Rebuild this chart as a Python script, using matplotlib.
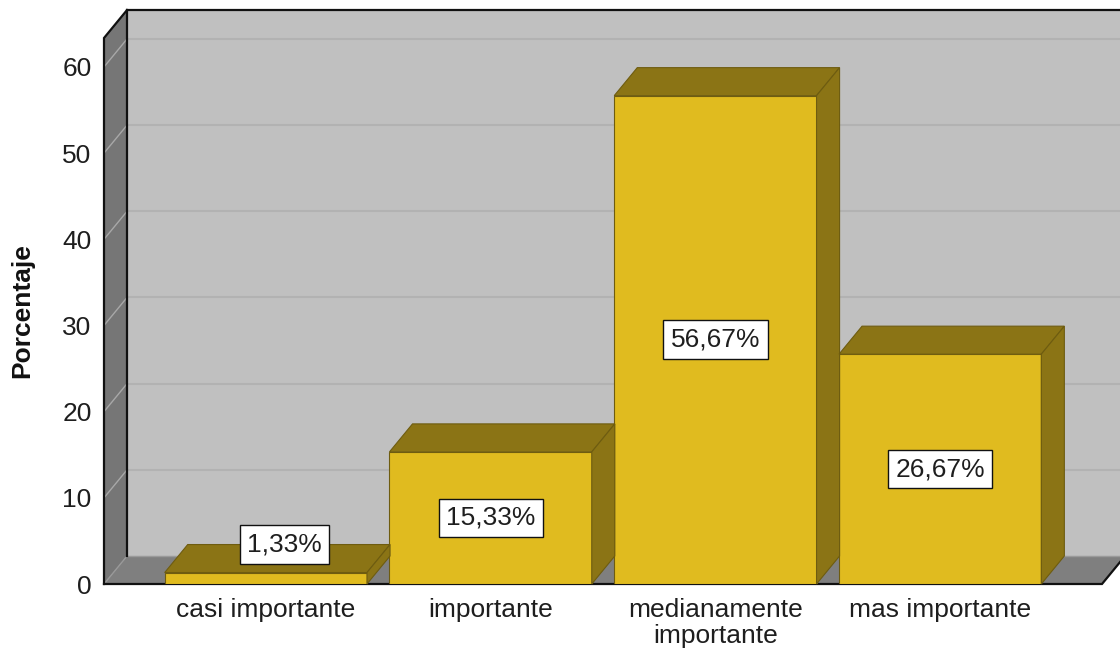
import matplotlib
matplotlib.use("Agg")
import matplotlib.pyplot as plt
from matplotlib.patches import Polygon

# Data
categories = ["casi importante", "importante", "medianamente\nimportante", "mas importante"]
percentages = [1.33, 15.33, 56.67, 26.67]
value_labels = ["1,33%", "15,33%", "56,67%", "26,67%"]
y_ticks = [0, 10, 20, 30, 40, 50, 60]

# Style
FRONT = "#e0bb1f"
SHADE = "#8b7415"
BAR_EDGE = "#6e5c10"
BACK_WALL = "#c0c0c0"
LEFT_WALL = "#767676"
FLOOR = "#7f7f7f"
TEXT = "#1e1e1e"
FONT = "Liberation Sans"
FS = 19

plt.rcParams["font.family"] = [FONT, "DejaVu Sans"]

W, H = 1120, 654
fig = plt.figure(figsize=(W / 100, H / 100), dpi=100)
fig.patch.set_facecolor("white")
ax = fig.add_axes([104 / W, (H - 584) / H, (1102 - 104) / W, (584 - 38) / H])

xmin, xmax = -0.72, 3.72
ymin, ymax = 0, 63.36
ax.set_xlim(xmin, xmax)
ax.set_ylim(ymin, ymax)
ax.set_facecolor("none")
for s in ax.spines.values():
    s.set_visible(False)

# depth of the 3D box (data units)
DX, DY = 0.1025, 3.25
BAR_W = 0.9

def poly(pts, fc, ec="none", lw=0, z=1):
    ax.add_patch(Polygon(pts, closed=True, facecolor=fc, edgecolor=ec,
                         linewidth=lw, zorder=z, clip_on=False))

# back wall
poly([(xmin + DX, DY), (xmax + DX, DY), (xmax + DX, ymax + DY), (xmin + DX, ymax + DY)],
     BACK_WALL, z=0.5)
for t in y_ticks[1:]:
    ax.plot([xmin + DX, xmax + DX], [t + DY, t + DY], color="#b2b2b2", lw=1.5,
            zorder=0.6, clip_on=False, solid_capstyle="butt")

# left wall
poly([(xmin, 0), (xmin, ymax), (xmin + DX, ymax + DY), (xmin + DX, DY)], LEFT_WALL, z=0.7)
for t in y_ticks[1:]:
    ax.plot([xmin, xmin + DX], [t, t + DY], color="#a8a8a8", lw=1.0, zorder=0.8, clip_on=False)

# floor
poly([(xmin, 0), (xmax, 0), (xmax + DX, DY), (xmin + DX, DY)], FLOOR, z=0.7)
ax.plot([xmin + DX, xmax + DX], [DY, DY], color="#9a9a9a", lw=1.0, zorder=0.75, clip_on=False)

# frame edges
edge_kw = dict(color="#111111", lw=1.6, zorder=0.9, clip_on=False, solid_joinstyle="miter")
ax.plot([xmin + DX, xmin + DX, xmax + DX], [DY, ymax + DY, ymax + DY], **edge_kw)
ax.plot([xmin, xmin, xmin + DX], [0, ymax, ymax + DY], **edge_kw)
ax.plot([xmin + DX, xmin], [DY, 0], color="#999999", lw=1.0, zorder=0.85, clip_on=False)
ax.plot([xmin, xmax, xmax + DX], [0, 0, DY], **edge_kw)

# bars
xs = list(range(len(categories)))
ax.bar(xs, percentages, width=BAR_W, color=FRONT, edgecolor=BAR_EDGE, linewidth=0.8, zorder=2)
for x, v in zip(xs, percentages):
    l, r = x - BAR_W / 2, x + BAR_W / 2
    poly([(l, v), (r, v), (r + DX, v + DY), (l + DX, v + DY)], SHADE, BAR_EDGE, 0.8, 2)
    poly([(r, 0), (r + DX, DY), (r + DX, v + DY), (r, v)], SHADE, BAR_EDGE, 0.8, 2)

# value labels
for x, v, lab in zip(xs, percentages, value_labels):
    if v < 5:
        tx, ty = x + DX * 0.8, v + DY
    else:
        tx, ty = x, v / 2
    ax.text(tx, ty, lab, ha="center", va="center", fontsize=FS, color=TEXT, zorder=5,
            bbox=dict(boxstyle="square,pad=0.28", facecolor="white", edgecolor="#111111",
                      linewidth=1.0))

# axes text
ax.set_yticks(y_ticks)
ax.set_yticklabels([str(t) for t in y_ticks])
ax.set_xticks(xs)
ax.set_xticklabels(categories, linespacing=1.1)
ax.tick_params(axis="y", length=0, pad=9, labelsize=FS, labelcolor=TEXT)
ax.tick_params(axis="x", length=0, pad=10, labelsize=FS, labelcolor=TEXT)
ax.set_ylabel("Porcentaje", fontsize=FS, fontweight="bold", color="#111111")
ax.yaxis.set_label_coords((34 - 104) / 998, 0.5)

fig.savefig("out.png", dpi=100, facecolor="white")
